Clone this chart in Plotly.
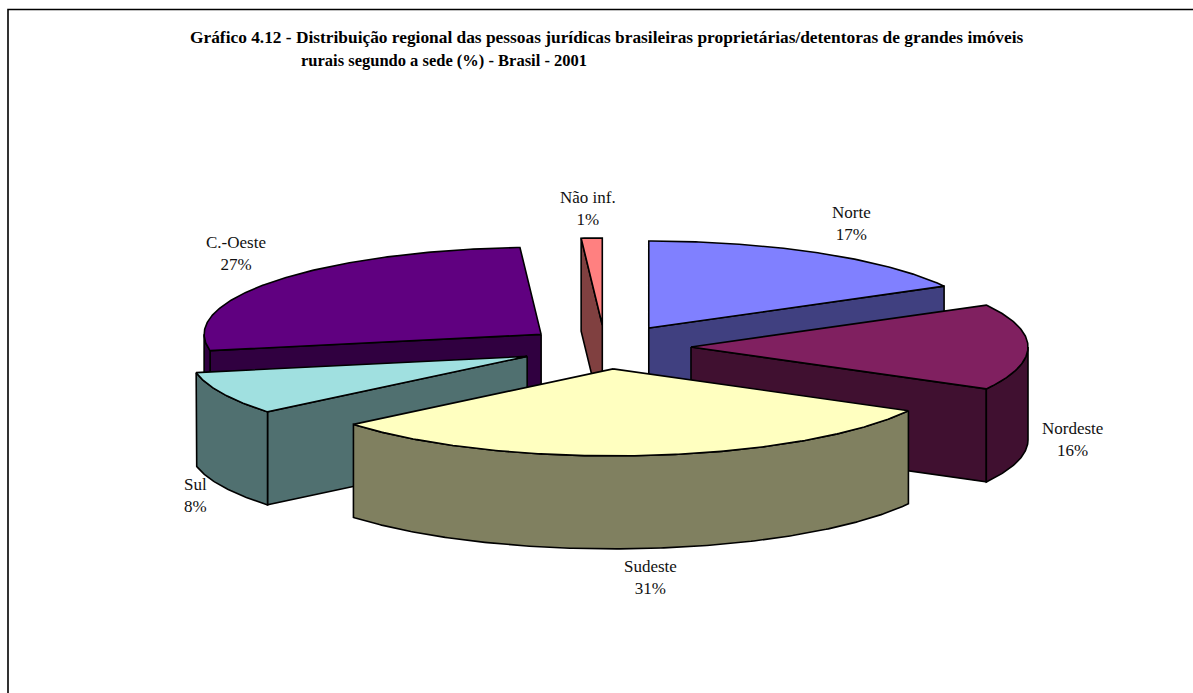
import numpy as np
import plotly.graph_objects as go

# Regional shares (%), clockwise from twelve o'clock
regions = ["Norte", "Nordeste", "Sudeste", "Sul", "C.-Oeste", "Não inf."]
shares = [17, 16, 31, 8, 27, 1]

top_colors = ["#8080FF", "#802060", "#FFFFC0", "#A0E0E0", "#600080", "#FF8080"]
side_colors = ["#404080", "#401030", "#808060", "#507070", "#300040", "#804040"]

title_lines = [
    "Gráfico 4.12 - Distribuição regional das pessoas jurídicas brasileiras proprietárias/detentoras de grandes imóveis",
    "rurais segundo a sede (%) - Brasil - 2001",
]

# Label anchors in page pixels, same order as regions
label_x = [851, 1072, 650, 195, 236, 588]
label_y = [223, 439, 577, 495.5, 253.5, 208]

# Projection of the tilted disc
CX, CY = 605, 347
RX, RY = 337, 87
DEPTH = 93
EXPLODE_X, EXPLODE_Y = 86, 22
# Pull-out of each wedge relative to the common distance
pull = [1, 1, 1, 1, 0.94, 1]
FONT = "Liberation Serif"
OUTLINE = dict(color="black", width=1.6)


def rim_point(theta_deg, ox, oy, drop=0.0):
    t = np.radians(theta_deg)
    return ox + RX * np.sin(t), oy - RY * np.cos(t) + drop


def arc(a0, a1, ox, oy, drop=0.0):
    n = max(2, int(abs(a1 - a0) * 2) + 1)
    return rim_point(np.linspace(a0, a1, n), ox, oy, drop)


def polygon(xs, ys, color):
    xs = np.append(xs, xs[0])
    ys = np.append(ys, ys[0])
    return go.Scatter(x=xs, y=ys, mode="lines", fill="toself", fillcolor=color,
                      line=OUTLINE, hoverinfo="skip", showlegend=False)


def wedge_traces(i, start, end):
    mid = np.radians((start + end) / 2)
    ox = CX + pull[i] * EXPLODE_X * np.sin(mid)
    oy = CY - pull[i] * EXPLODE_Y * np.cos(mid)
    traces = []
    # Radial cut faces turned towards the viewer
    for angle, visible in ((start, np.sin(np.radians(start)) < 0),
                           (end, np.sin(np.radians(end)) > 0)):
        if visible:
            ex, ey = rim_point(angle, ox, oy)
            traces.append(polygon(np.array([ox, ex, ex, ox]),
                                  np.array([oy, ey, ey + DEPTH, oy + DEPTH]),
                                  side_colors[i]))
    # Curved outer wall, front half of the disc only
    a0, a1 = max(start, 90), min(end, 270)
    if a1 > a0:
        ux, uy = arc(a0, a1, ox, oy)
        lx, ly = arc(a1, a0, ox, oy, DEPTH)
        traces.append(polygon(np.r_[ux, lx], np.r_[uy, ly], side_colors[i]))
    # Top face
    ax, ay = arc(start, end, ox, oy)
    traces.append(polygon(np.r_[ox, ax], np.r_[oy, ay], top_colors[i]))
    return traces


edges = np.cumsum([0] + shares) / sum(shares) * 360
fig = go.Figure()

# Painted back to front so nearer wedges hide farther ones
for i in [5, 0, 4, 3, 1, 2]:
    for trace in wedge_traces(i, edges[i], edges[i + 1]):
        fig.add_trace(trace)

annotations = [
    dict(x=lx, y=ly, text=f"{name}<br>{value}%", showarrow=False,
         font=dict(family=FONT, size=17, color="#111111"),
         xanchor="center", yanchor="middle")
    for name, value, lx, ly in zip(regions, shares, label_x, label_y)
]
annotations += [
    dict(x=188, y=37, text=f"<b>{title_lines[0]}</b>", showarrow=False, xanchor="left",
         yanchor="middle", font=dict(family=FONT, size=17.35, color="black")),
    dict(x=299, y=60, text=f"<b>{title_lines[1]}</b>", showarrow=False, xanchor="left",
         yanchor="middle", font=dict(family=FONT, size=16.5, color="black")),
]

fig.update_layout(
    width=1193, height=693, autosize=False,
    margin=dict(l=0, r=0, t=0, b=0),
    paper_bgcolor="white", plot_bgcolor="white",
    xaxis=dict(range=[0, 1193], visible=False, fixedrange=True),
    yaxis=dict(range=[693, 0], visible=False, fixedrange=True),
    annotations=annotations,
    shapes=[dict(type="rect", x0=8, y0=9.5, x1=1300, y1=800,
                 line=dict(color="black", width=1.6), layer="below")],
)

fig.write_html("out.html", config={"displayModeBar": False})
